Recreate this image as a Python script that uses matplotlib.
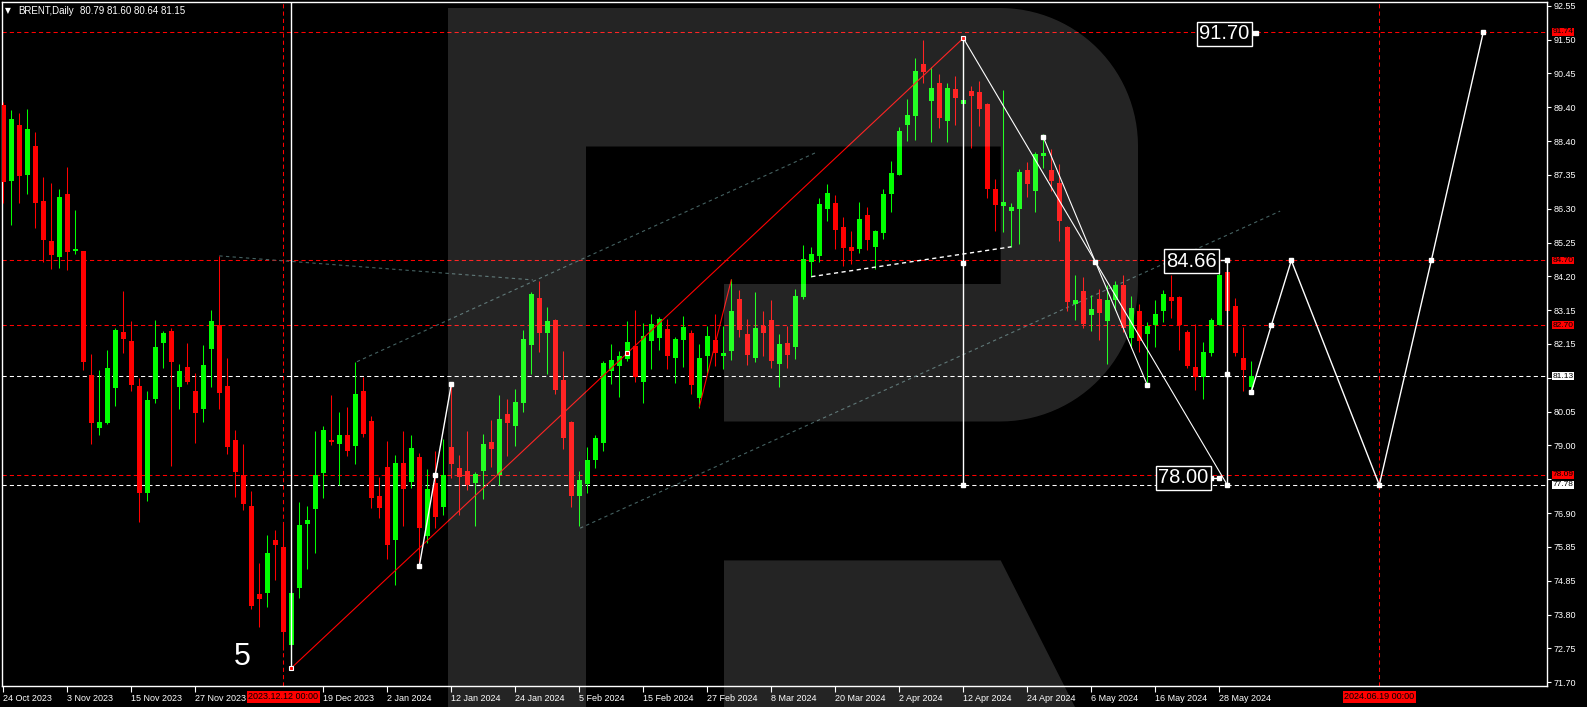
import matplotlib.pyplot as plt
import numpy as np
from matplotlib.patches import Polygon

plt.rcParams['font.family'] = ['Liberation Sans', 'DejaVu Sans']

W, H = 1587, 707

# daily candles, bar 0 = 24 Oct 2023
opens = [89.49, 87.16, 88.87, 87.33, 88.23, 86.53, 85.30, 84.82, 86.75, 84.99,
         84.99, 81.17, 79.55, 79.70, 80.78, 82.49, 82.22, 80.83, 77.54, 80.43,
         82.16, 82.53, 80.81, 81.42, 80.68, 80.12, 81.98, 82.70, 80.83, 79.17,
         78.09, 77.13, 74.42, 74.46, 76.08, 75.87, 72.85, 74.62, 76.58, 77.04,
         78.16, 79.17, 79.05, 79.32, 78.99, 80.68, 79.75, 77.44, 78.33, 76.09,
         78.46, 77.88, 78.64, 76.22, 77.84, 77.11, 78.95, 78.30, 78.21, 77.85,
         78.22, 79.10, 78.09, 79.97, 79.61, 80.32, 82.10, 83.54, 82.47, 82.86,
         81.02, 79.73, 77.45, 77.81, 78.55, 79.08, 81.30, 81.46, 81.67, 82.06,
         80.96, 82.23, 82.32, 82.59, 81.70, 82.26, 82.46, 80.47, 81.76, 82.25,
         81.77, 81.92, 83.51, 82.43, 81.70, 82.68, 82.86, 81.52, 82.16, 82.04,
         83.58, 84.66, 84.85, 86.30, 86.47, 85.73, 85.11, 85.05, 86.10, 85.12,
         85.56, 86.76, 87.34, 88.88, 89.16, 90.76, 89.62, 90.17, 89.01, 89.98,
         89.53, 89.92, 89.89, 89.52, 86.90, 86.39, 86.23, 86.30, 87.49, 86.85,
         87.93, 87.49, 87.09, 85.74, 83.37, 83.76, 83.03, 83.51, 82.84, 83.49,
         83.94, 82.32, 83.15, 82.44, 82.71, 83.14, 83.57, 83.57, 82.50, 81.43,
         81.10, 81.86, 82.72, 84.35, 83.30, 81.70, 80.79]
highs = [89.59, 89.34, 89.25, 89.37, 88.67, 87.27, 87.09, 86.90, 87.58, 86.25,
         85.00, 81.82, 81.32, 81.94, 82.62, 83.76, 82.83, 81.08, 80.68, 82.86,
         82.53, 82.62, 81.51, 82.16, 81.24, 82.09, 83.17, 84.84, 81.69, 79.48,
         79.04, 77.60, 75.38, 76.24, 76.39, 76.55, 74.45, 77.26, 77.13, 79.44,
         79.60, 80.55, 80.03, 80.18, 81.57, 81.12, 79.90, 78.03, 79.14, 78.70,
         79.44, 79.32, 78.77, 78.27, 78.83, 79.20, 80.89, 78.70, 79.44, 78.18,
         79.35, 79.78, 80.55, 80.43, 80.74, 82.56, 83.73, 84.07, 83.26, 82.90,
         81.91, 79.75, 78.21, 78.96, 79.32, 81.60, 82.13, 81.91, 82.83, 83.17,
         82.77, 83.05, 82.96, 82.90, 82.34, 82.99, 82.56, 82.13, 82.68, 83.05,
         82.68, 84.13, 83.79, 82.90, 83.73, 83.14, 83.48, 82.44, 82.68, 83.82,
         85.18, 85.11, 86.63, 87.06, 86.72, 86.04, 85.61, 86.50, 86.35, 85.64,
         86.90, 87.76, 88.81, 89.67, 90.94, 91.49, 90.66, 90.45, 90.17, 90.38,
         91.55, 90.08, 90.23, 89.55, 87.21, 89.95, 86.47, 87.52, 87.73, 88.04,
         88.60, 88.13, 87.67, 85.77, 84.25, 84.20, 83.64, 83.83, 83.94, 84.07,
         84.25, 83.60, 83.36, 82.80, 83.48, 83.79, 84.25, 83.60, 82.55, 82.74,
         82.19, 82.93, 84.31, 84.65, 83.54, 82.66, 81.60]
lows = [86.46, 85.79, 86.48, 86.75, 85.71, 84.66, 84.44, 84.48, 84.41, 84.89,
        81.32, 79.04, 79.32, 79.65, 80.22, 81.86, 80.69, 76.65, 77.30, 80.32,
        81.39, 78.37, 80.12, 80.90, 79.08, 79.73, 80.81, 80.12, 78.74, 77.42,
        77.02, 73.97, 73.41, 74.03, 74.85, 72.70, 72.14, 74.31, 75.19, 75.69,
        77.39, 79.01, 77.77, 78.68, 78.44, 79.27, 77.08, 76.77, 75.50, 74.71,
        76.53, 77.70, 75.28, 75.98, 76.46, 76.86, 78.00, 76.86, 77.63, 76.53,
        77.36, 78.34, 77.78, 78.68, 78.99, 80.04, 81.21, 81.89, 81.21, 80.59,
        78.90, 77.11, 76.53, 77.52, 78.31, 78.84, 80.90, 80.50, 81.61, 80.96,
        80.32, 81.36, 81.95, 81.36, 80.93, 81.43, 80.59, 80.16, 81.24, 81.46,
        81.36, 81.64, 82.35, 81.49, 81.58, 81.77, 81.39, 80.81, 81.39, 81.67,
        83.52, 84.20, 84.66, 85.93, 85.06, 84.54, 84.60, 84.94, 85.02, 84.45,
        85.37, 86.20, 87.33, 88.39, 88.42, 90.18, 88.36, 88.79, 88.36, 88.88,
        89.40, 88.17, 88.85, 86.63, 85.62, 85.59, 85.12, 85.22, 86.66, 86.20,
        87.56, 86.85, 85.31, 83.15, 82.86, 82.63, 82.54, 82.26, 81.52, 83.18,
        82.50, 82.01, 81.89, 80.81, 82.04, 82.81, 82.94, 81.95, 81.40, 80.72,
        80.44, 81.76, 82.70, 83.02, 81.76, 80.69, 80.64]
closes = [87.13, 89.06, 87.31, 88.75, 86.48, 85.33, 84.87, 86.66, 84.97, 85.05,
          81.58, 79.68, 79.72, 81.39, 82.56, 82.28, 80.86, 77.53, 80.40, 82.03,
          82.46, 81.58, 81.29, 80.96, 80.01, 81.48, 82.83, 80.62, 78.96, 78.19,
          77.20, 74.06, 74.28, 75.68, 75.94, 73.26, 74.45, 76.55, 76.70, 78.08,
          79.48, 79.10, 79.32, 78.84, 80.58, 79.36, 77.39, 77.08, 75.94, 78.46,
          77.67, 78.92, 76.46, 77.66, 76.80, 78.08, 78.44, 78.04, 77.79, 78.12,
          79.04, 78.90, 79.81, 79.70, 80.34, 82.28, 83.67, 82.47, 82.83, 80.72,
          79.24, 77.45, 77.93, 78.55, 79.23, 81.54, 81.63, 81.76, 82.19, 81.12,
          82.37, 82.74, 82.90, 81.77, 82.28, 82.65, 80.87, 81.69, 82.37, 81.86,
          81.85, 83.14, 82.57, 81.80, 82.62, 82.47, 81.61, 82.13, 81.80, 83.60,
          84.74, 84.90, 86.44, 86.78, 85.65, 85.09, 84.99, 85.98, 85.33, 85.61,
          86.75, 87.39, 88.69, 89.18, 90.54, 90.50, 90.01, 89.10, 90.01, 89.72,
          89.64, 89.78, 89.38, 86.91, 86.42, 86.50, 86.35, 87.43, 87.07, 87.98,
          88.01, 87.16, 85.93, 83.43, 83.48, 82.75, 83.20, 83.09, 83.48, 83.94,
          82.63, 83.23, 82.23, 82.68, 83.05, 83.67, 83.46, 82.70, 81.46, 81.12,
          81.88, 82.86, 84.26, 83.15, 81.86, 81.33, 81.15]

date_ticks = [0, 8, 16, 24, 40, 48, 56, 64, 72, 80, 88, 96, 104, 112, 120, 128, 136, 144, 152]
date_labels = ['24 Oct 2023', '3 Nov 2023', '15 Nov 2023', '27 Nov 2023', '19 Dec 2023',
               '2 Jan 2024', '12 Jan 2024', '24 Jan 2024', '5 Feb 2024', '15 Feb 2024',
               '27 Feb 2024', '8 Mar 2024', '20 Mar 2024', '2 Apr 2024', '12 Apr 2024',
               '24 Apr 2024', '6 May 2024', '16 May 2024', '28 May 2024']
# labels at 81.10 and 77.95 are hidden behind the level boxes
price_labels = ['92.55', '91.50', '90.45', '89.40', '88.40', '87.35', '86.30', '85.25',
                '84.20', '83.15', '82.15', '', '80.05', '79.00', '', '76.90',
                '75.85', '74.85', '73.80', '72.75', '71.70']

red_levels = [91.74, 84.70, 82.70, 78.09]
white_levels = [81.13, 77.78]
red_vlines = [35, 172]
red_vline_labels = ['2023.12.12 00:00', '2024.06.19 00:00']

# drawn objects (bar index, price)
trend_red = ([36, 120], [72.14, 91.55])
wave_red = ([87, 91], [80.19, 84.10])
jan_wave = ([52, 54, 56], [75.28, 78.09, 80.88])
peak_drop = ([120, 153], [91.55, 77.78])
second_drop = ([130, 136.5, 143], [88.50, 84.66, 80.86])
support_line = ([101, 126], [84.20, 85.12])
forecast_x = [156, 158.5, 161, 172, 178.5, 185]
forecast_y = [80.65, 82.70, 84.70, 77.78, 84.70, 91.74]
channel_lines = [([44.2, 101.8], [81.58, 88.05]),
                 ([27, 66.2], [84.84, 84.10]),
                 ([72.1, 159.6], [76.45, 86.22])]

BULL, BEAR = '#00ff00', '#ff0000'

fig = plt.figure(figsize=(W / 100, H / 100), dpi=100, facecolor='black')
ax = fig.add_axes([2 / W, 21 / H, 1545 / W, 684 / H], facecolor='black')
ax.set_xlim(-0.1625, 192.96)
ax.set_ylim(71.586, 92.664)

# candles
o, h, l, c = (np.array(v) for v in (opens, highs, lows, closes))
idx = np.arange(len(o))
cols = np.where(c >= o, BULL, BEAR)
ax.vlines(idx, l, h, colors=cols, lw=0.75, zorder=3)
ax.bar(idx, np.maximum(np.abs(c - o), 0.04), 0.6, np.minimum(o, c), color=cols, lw=0, zorder=3)

# levels
for lv in red_levels:
    ax.axhline(lv, color='red', lw=0.75, ls=(0, (4, 3)), zorder=2)
    ax.text(1.0035, lv, f'{lv:.2f}', transform=ax.get_yaxis_transform(), ha='left', va='center',
            fontsize=6, color='black', clip_on=False, zorder=6,
            bbox=dict(boxstyle='square,pad=0.05', fc='red', ec='none'))
for lv in white_levels:
    ax.axhline(lv, color='white', lw=0.75, ls=(0, (4, 3)), zorder=2)
    ax.text(1.0035, lv, f'{lv:.2f}', transform=ax.get_yaxis_transform(), ha='left', va='center',
            fontsize=6, color='black', clip_on=False, zorder=6,
            bbox=dict(boxstyle='square,pad=0.05', fc='white', ec='none'))
for xv, lab in zip(red_vlines, red_vline_labels):
    ax.axvline(xv, color='red', lw=0.75, ls=(0, (4, 3)), zorder=2)
    ax.text(xv, -0.009, lab, transform=ax.get_xaxis_transform(), ha='center', va='top',
            fontsize=6.5, color='black', clip_on=False, zorder=6,
            bbox=dict(boxstyle='square,pad=0.15', fc='red', ec='none'))

# channels
for xs, ys in channel_lines:
    ax.plot(xs, ys, color='#456262', lw=0.8, ls=(0, (3, 3)), zorder=2)

# red trend lines
ax.plot(*trend_red, color='red', lw=0.8, zorder=4)
ax.plot(*wave_red, color='red', lw=0.8, zorder=4)
ax.plot([36, 78, 120], [72.14, 81.85, 91.55], 's', ms=3.5, mfc='red', mec='white', mew=0.8, zorder=5)

# white analysis lines
mk = dict(marker='s', ms=3.5, mfc='white', mec='white')
ax.plot([36, 36], [72.14, 92.7], color='white', lw=1, zorder=4)
ax.plot(*jan_wave, color='white', lw=1, zorder=4, **mk)
ax.plot(*support_line, color='white', lw=1, ls=(0, (3, 2.5)), zorder=4)
ax.plot([120, 120], [91.55, 77.78], color='white', lw=1, zorder=4)
ax.plot([120, 120], [84.63, 77.78], 's', ms=3.5, color='white', zorder=5)
ax.plot(*peak_drop, color='white', lw=0.8, zorder=4)
ax.plot(*second_drop, color='white', lw=0.8, zorder=4, **mk)
ax.plot([153, 153, 153], [84.70, 81.21, 77.78], color='white', lw=1, zorder=4, **mk)
ax.plot(forecast_x, forecast_y, color='white', lw=1, zorder=4, **mk)

# target labels
box = dict(boxstyle='square,pad=0.12', fc='black', ec='white', lw=1)
ax.text(148.5, 84.68, '84.66', fontsize=14.5, color='white', ha='center', va='center', bbox=box, zorder=6)
ax.plot([152.2, 153], [84.70, 84.70], color='white', lw=1, zorder=5)
ax.text(147.5, 78.0, '78.00', fontsize=14.5, color='white', ha='center', va='center', bbox=box, zorder=6)
ax.plot([150.9, 151.9], [78.0, 78.0], color='white', lw=1, zorder=5, **mk)
ax.text(152.6, 91.69, '91.70', fontsize=14.5, color='white', ha='center', va='center', bbox=box, zorder=6)
ax.plot([156.0, 156.6], [91.70, 91.70], color='white', lw=1, zorder=5, **mk)
ax.text(29.9, 72.48, '5', fontsize=22, color='white', ha='center', va='center', zorder=6)

# axes styling
for sp in ax.spines.values():
    sp.set_color('white')
    sp.set_linewidth(1)
ax.yaxis.tick_right()
ax.set_yticks(np.linspace(92.55, 71.70, 21))
ax.set_yticklabels(price_labels)
ax.set_xticks(date_ticks)
ax.set_xticklabels(date_labels, ha='left')
ax.tick_params(axis='y', colors='white', length=3, pad=2, labelsize=6.5, width=0.8)
ax.tick_params(axis='x', colors='white', length=4, pad=1.5, labelsize=6.5, width=0.8)

fig.text(5 / W, 1 - 11 / H, '\u25bc', color='white', fontsize=5.5, va='center', family='DejaVu Sans')
fig.text(18.5 / W, 1 - 11 / H, 'BRENT,Daily', color='white', fontsize=7, va='center')
fig.text(80 / W, 1 - 11 / H, '80.79 81.60 80.64 81.15', color='white', fontsize=7, va='center')

# background logo overlay, pixel outline of the big "R"
r = 138
t = np.linspace(0, np.pi / 2, 30)
bowl = [(586, 8), (1000, 8)]
bowl += list(zip(1000 + r * np.sin(t), 146 - r * np.cos(t)))
bowl += list(zip(1000 + r * np.cos(t), 283.5 + r * np.sin(t)))
bowl += [(724, 421.5), (724, 284), (1000.7, 284), (1000.7, 146.5), (586, 146.5)]
shapes = [bowl,
          [(448, 8), (586, 8), (586, 707), (448, 707)],
          [(724, 560.4), (1000.7, 560.4), (1075, 707), (724, 707)]]
for pts in shapes:
    fig.add_artist(Polygon([(x / W, 1 - y / H) for x, y in pts], closed=True,
                           transform=fig.transFigure, fc='white', ec='none', alpha=0.145, zorder=1))

fig.savefig('out.png', dpi=100, facecolor='black')
